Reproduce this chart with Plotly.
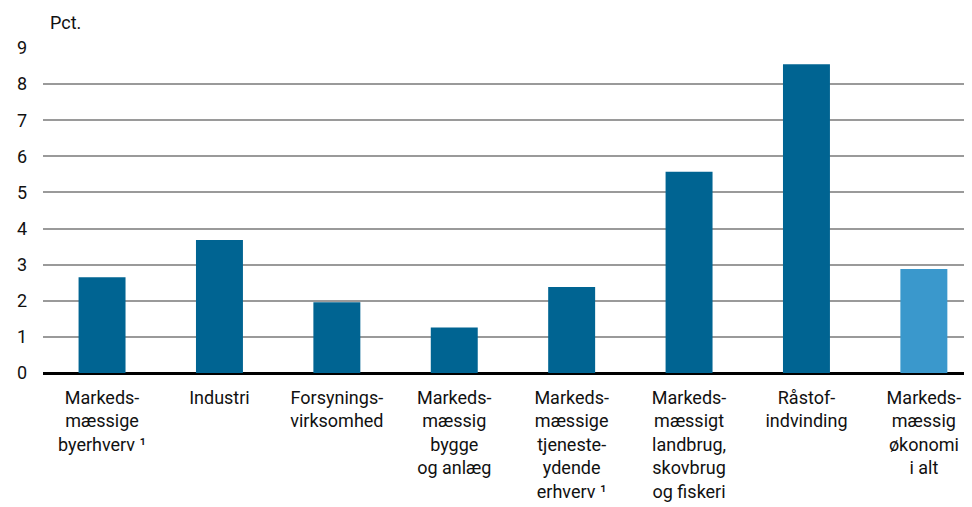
import plotly.graph_objects as go

categories = [
    "Markeds-<br>mæssige<br>byerhverv ¹",
    "Industri",
    "Forsynings-<br>virksomhed",
    "Markeds-<br>mæssig<br>bygge<br>og anlæg",
    "Markeds-<br>mæssige<br>tjeneste-<br>ydende<br>erhverv ¹",
    "Markeds-<br>mæssigt<br>landbrug,<br>skovbrug<br>og fiskeri",
    "Råstof-<br>indvinding",
    "Markeds-<br>mæssig<br>økonomi<br>i alt",
]
values = [2.65, 3.68, 1.96, 1.26, 2.38, 5.57, 8.55, 2.88]
bar_colors = ["#006492"] * 7 + ["#3a98cc"]
y_ticks = [0, 1, 2, 3, 4, 5, 6, 7, 8, 9]

FONT = "Roboto"

fig = go.Figure()
fig.add_trace(go.Bar(
    x=list(range(len(categories))),
    y=values,
    marker=dict(color=bar_colors, line=dict(width=0)),
    width=0.40,
))

fig.update_layout(
    width=964, height=499,
    margin=dict(l=35, r=0, t=40, b=134),
    paper_bgcolor="white", plot_bgcolor="white",
    showlegend=False,
    font=dict(family=FONT, size=18, color="#111111"),
    xaxis=dict(
        tickmode="array",
        tickvals=list(range(len(categories))),
        ticktext=categories,
        range=[-0.503, 7.41],
        showgrid=False, zeroline=False, showline=False,
        ticks="", tickfont=dict(family=FONT, size=18),
        ticklabelstandoff=12,
        automargin=False,
    ),
    yaxis=dict(
        range=[0, 9],
        tickvals=y_ticks,
        showgrid=True, gridcolor="#9a9a9a", gridwidth=1.5,
        zeroline=True, zerolinecolor="#000000", zerolinewidth=3,
        showline=False, ticks="",
        tickfont=dict(family=FONT, size=18),
        ticklabelstandoff=15,
        automargin=False,
    ),
    annotations=[dict(
        text="Pct.", xref="paper", yref="paper", x=0, y=1,
        xanchor="left", yanchor="bottom", xshift=5, yshift=13,
        showarrow=False, font=dict(family=FONT, size=18),
    )],
)

fig.write_html("out.html")
